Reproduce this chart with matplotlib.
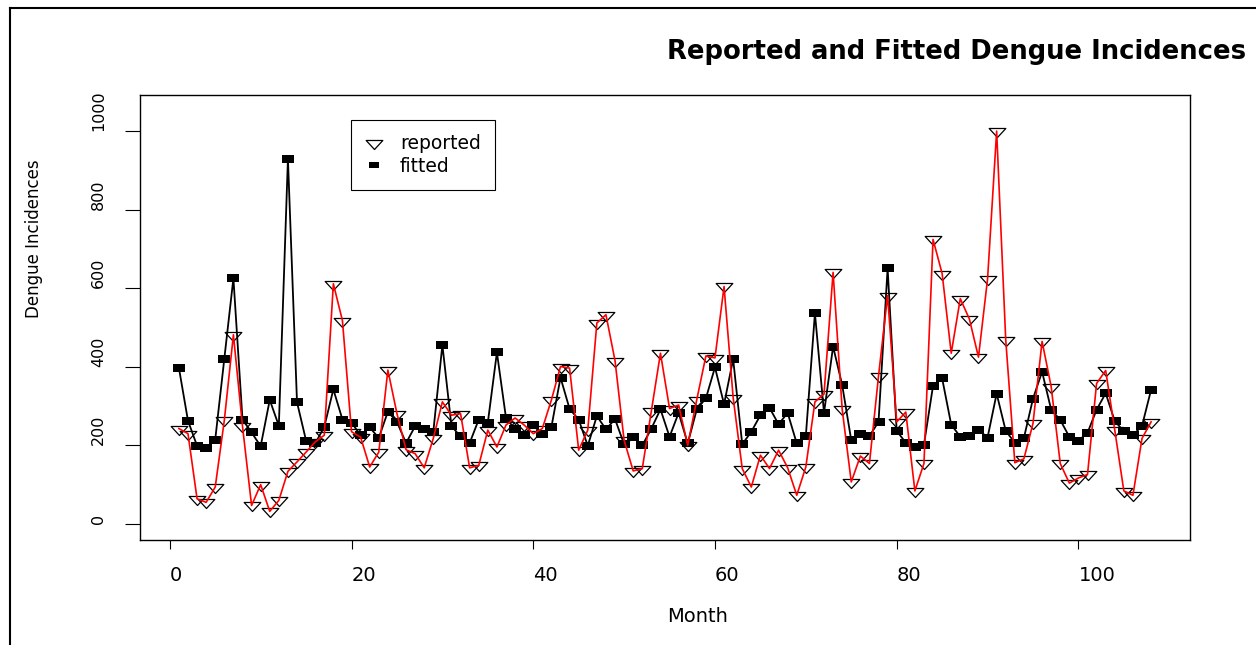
import matplotlib

matplotlib.use('Agg')

import matplotlib.pyplot as plt
from matplotlib.lines import Line2D
from matplotlib.path import Path

# monthly dengue counts
reported = [242, 229, 63, 54, 93, 263, 481, 248, 46, 99,
            31, 59, 133, 157, 182, 208, 225, 611, 517, 234,
            220, 144, 182, 391, 280, 188, 178, 142, 217, 310,
            276, 280, 142, 148, 238, 195, 251, 269, 251, 229,
            242, 315, 400, 396, 187, 238, 511, 532, 415, 212,
            134, 140, 287, 434, 293, 302, 199, 316, 427, 422,
            604, 321, 140, 93, 174, 140, 187, 142, 72, 144,
            310, 330, 640, 291, 106, 172, 153, 376, 581, 259,
            284, 83, 153, 724, 637, 434, 573, 521, 424, 623,
            1000, 468, 155, 165, 255, 464, 349, 153, 103, 116,
            125, 357, 390, 238, 83, 72, 217, 259]

fitted = [397, 262, 198, 193, 214, 420, 625, 265, 232, 197,
          315, 249, 929, 309, 211, 204, 246, 342, 265, 257,
          225, 245, 218, 285, 259, 205, 248, 240, 234, 455,
          248, 222, 205, 265, 257, 436, 269, 240, 225, 252,
          229, 246, 372, 292, 265, 198, 274, 240, 266, 202,
          221, 199, 242, 291, 221, 282, 204, 291, 319, 398,
          304, 419, 202, 234, 276, 295, 253, 282, 204, 223,
          536, 282, 451, 353, 212, 229, 223, 259, 650, 236,
          206, 194, 201, 351, 370, 252, 221, 224, 239, 219,
          331, 236, 206, 218, 318, 387, 290, 264, 221, 211,
          231, 290, 332, 261, 235, 225, 249, 341]

months = list(range(1, len(reported) + 1))
xticks = [0, 20, 40, 60, 80, 100]
yticks = [0, 200, 400, 600, 800, 1000]

W, H = 1256, 645
plt.rcParams['font.family'] = ['DejaVu Sans']

fig = plt.figure(figsize=(W / 100, H / 100), dpi=100)
ax = fig.add_axes([140 / W, 105 / H, 1050 / W, 445 / H])

# the source picture is stretched sideways, so the markers are too
k = 1.6
tri = Path([(-0.866 * k, 0.5), (0.866 * k, 0.5), (0, -1), (0, 0)],
           [Path.MOVETO, Path.LINETO, Path.LINETO, Path.CLOSEPOLY])
sq = Path([(-0.8, -0.5), (0.8, -0.5), (0.8, 0.5), (-0.8, 0.5), (0, 0)],
          [Path.MOVETO, Path.LINETO, Path.LINETO, Path.LINETO, Path.CLOSEPOLY])

ax.plot(months, reported, ls='none', marker=tri, ms=12, mfc='none',
        mec='black', mew=0.9, zorder=2)
ax.plot(months, fitted, color='black', lw=1.3, marker=sq, ms=8.8,
        mfc='black', mec='black', mew=0, zorder=3)
ax.plot(months, reported, color='red', lw=1.2, zorder=4)

ax.set_xlim(-3.28, 112.28)
ax.set_ylim(-42, 1092)
ax.set_xticks(xticks)
ax.set_yticks(yticks)
ax.tick_params(axis='x', length=6.5, width=0.8, labelbottom=False)
ax.tick_params(axis='y', length=10.8, width=0.8, labelleft=False)
for s in ax.spines.values():
    s.set_linewidth(1.0)

# tick labels start at the tick, like in the original
for t in xticks:
    ax.text(t, -0.0921, str(t), transform=ax.get_xaxis_transform(),
            fontsize=14, ha='left', va='baseline')
for t in yticks:
    ax.text(-0.0352, t, str(t), transform=ax.get_yaxis_transform(),
            fontsize=11.5, rotation=90, rotation_mode='anchor',
            ha='left', va='baseline')

h1 = Line2D([], [], ls='none', marker=tri, ms=12, mfc='none', mec='black', mew=0.9)
h2 = Line2D([], [], ls='none', marker=sq, ms=6.8, mfc='black', mew=0)
leg = fig.legend([h1, h2], ['reported', 'fitted'], loc='upper left',
                 bbox_to_anchor=(351 / W, 1 - 120 / H), bbox_transform=fig.transFigure,
                 borderaxespad=0, fontsize=13.5, fancybox=False, edgecolor='black',
                 framealpha=1, borderpad=0.75, handlelength=1.0,
                 handletextpad=0.85, labelspacing=0.2, numpoints=1)
leg.get_frame().set_linewidth(0.8)

fig.text(667 / W, 1 - 59 / H, 'Reported and Fitted Dengue Incidences',
         fontsize=18.6, fontweight='bold', ha='left', va='baseline')
fig.text(667 / W, 1 - 622 / H, 'Month', fontsize=14, ha='left', va='baseline')
fig.text(39 / W, 1 - 318 / H, 'Dengue Incidences', fontsize=12, rotation=90,
         rotation_mode='anchor', ha='left', va='baseline')

# outer frame of the original device, cut off at right and bottom
fig.add_artist(Line2D([10 / W, 10 / W], [0, 1 - 8 / H], color='black',
                      lw=1.5, transform=fig.transFigure))
fig.add_artist(Line2D([10 / W, 1], [1 - 8 / H, 1 - 8 / H], color='black',
                      lw=1.5, transform=fig.transFigure))

fig.savefig('out.png', dpi=100)
plt.close(fig)
